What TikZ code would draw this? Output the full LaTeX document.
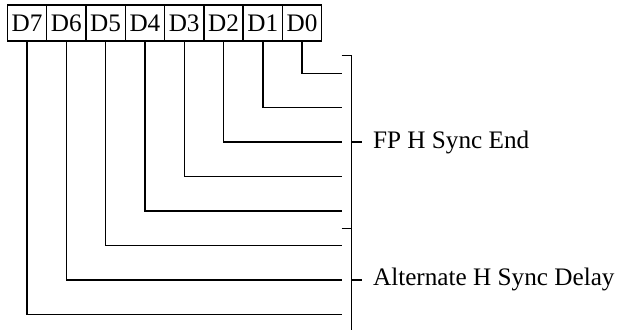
\documentclass[tikz,border=0pt]{standalone}
\usepackage{fontspec}
\setmainfont{Liberation Serif}
\usetikzlibrary{positioning}

\begin{document}
\begin{tikzpicture}[
    x=0.5pt, y=-0.5pt,
    node distance=0pt,
    every node/.style={font=\fontsize{12.6}{15}\selectfont},
    bitNode/.style={rectangle, draw=black, line width=0.7pt, inner sep=0pt, outer sep=0pt, minimum width=19.65pt, minimum height=18pt},
    labelNode/.style={anchor=west, inner sep=0pt},
    bitLine/.style={line width=0.7pt, draw=black},
    braceLine/.style={line width=0.7pt, draw=black}
]
\useasboundingbox (0,0) rectangle (621,330);

% Nodes
\node (d7) [bitNode] at (27,23) {D7};
\node (d6) [bitNode, right=of d7] {D6};
\node (d5) [bitNode, right=of d6] {D5};
\node (d4) [bitNode, right=of d5] {D4};
\node (d3) [bitNode, right=of d4] {D3};
\node (d2) [bitNode, right=of d3] {D2};
\node (d1) [bitNode, right=of d2] {D1};
\node (d0) [bitNode, right=of d1] {D0};
\node (fpEnd) [labelNode] at (372.7,142.2) {FP H Sync End};
\node (altDelay) [labelNode] at (372.7,279.9) {Alternate H Sync Delay};

% Line ends and bracket points
\coordinate (e0) at (341.7,73.3);
\coordinate (e1) at (341.7,107.7);
\coordinate (e2) at (341.7,142.2);
\coordinate (e3) at (341.7,176.6);
\coordinate (e4) at (341.7,211.0);
\coordinate (e5) at (341.7,245.5);
\coordinate (e6) at (341.7,279.9);
\coordinate (e7) at (341.7,314.3);
\coordinate (topTick) at (341.7,55.7);
\coordinate (midTick) at (341.7,228.3);
\coordinate (bTop) at (351.7,55.7);
\coordinate (bMid) at (351.7,228.3);
\coordinate (bBot) at (351.7,330);
\coordinate (fpTick) at (351.7,142.2);
\coordinate (altTick) at (351.7,279.9);

% Connectors
\draw [bitLine] (d0.south) |- (e0);
\draw [bitLine] (d1.south) |- (e1);
\draw [bitLine] (d2.south) |- (e2);
\draw [bitLine] (d3.south) |- (e3);
\draw [bitLine] (d4.south) |- (e4);
\draw [bitLine] (d5.south) |- (e5);
\draw [bitLine] (d6.south) |- (e6);
\draw [bitLine] (d7.south) |- (e7);

% Bracket
\draw [braceLine] (topTick) -- (bTop) -- (bBot);
\draw [braceLine] (midTick) -- (bMid);
\draw [braceLine] (fpTick) -- ++(10,0);
\draw [braceLine] (altTick) -- ++(10,0);

\end{tikzpicture}
\end{document}
